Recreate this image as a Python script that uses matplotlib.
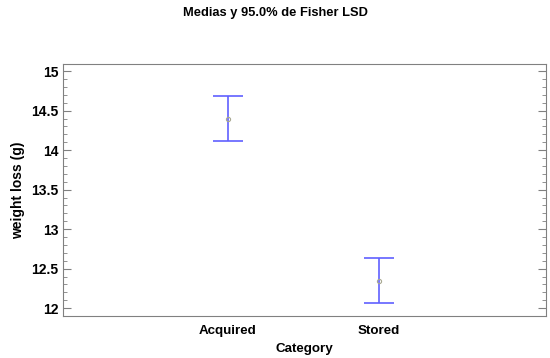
import numpy as np
import matplotlib
matplotlib.use('Agg')
from matplotlib import pyplot as plt
from matplotlib.ticker import MultipleLocator

# data
categories = ['Acquired', 'Stored']
means = [14.39, 12.34]
lower = [14.11, 12.06]
upper = [14.68, 12.63]

plt.rcParams['font.family'] = ['Liberation Sans', 'DejaVu Sans']

fig = plt.figure(figsize=(5.5, 3.58), dpi=100)
ax = fig.add_axes([63/550, 1-316/358, (546-63)/550, (316-64)/358])

x = np.array([1, 2])
m = np.array(means)
err = [m - np.array(lower), np.array(upper) - m]
ax.errorbar(x, m, yerr=err, fmt='none', ecolor='#6060ff', elinewidth=1.2,
            capsize=10.8, capthick=1.2)
ax.plot(x, m, 'o', ms=3, mfc='none', mec='#a8a890', mew=0.8)

ax.set_xlim(-0.093, 3.106)
ax.set_ylim(11.9, 15.09)
ax.set_xticks(x)
ax.set_xticklabels(categories, fontweight='bold', fontsize=9.6)
ax.yaxis.set_major_locator(MultipleLocator(0.5))
ax.yaxis.set_minor_locator(MultipleLocator(0.1))
ax.yaxis.set_major_formatter(matplotlib.ticker.FuncFormatter(lambda v, p: ('%g' % v)))
ax.tick_params(axis='y', which='both', direction='in', left=True, right=True,
               labelsize=10, colors='#808080', labelcolor='black')
ax.tick_params(axis='y', which='major', length=6)
ax.tick_params(axis='y', which='minor', length=3)
ax.tick_params(axis='x', length=0, pad=6.5)
for lab in ax.get_yticklabels():
    lab.set_fontweight('bold')
for s in ax.spines.values():
    s.set_color('#808080')

ax.set_xlabel('Category', fontweight='bold', fontsize=9.6, labelpad=4)
ax.set_ylabel('weight loss (g)', fontweight='bold', fontsize=10)
fig.text(0.5, 1-13/358, 'Medias y 95.0% de Fisher LSD', ha='center', va='center',
         fontweight='bold', fontsize=9.3)

fig.savefig('out.png', dpi=100)
